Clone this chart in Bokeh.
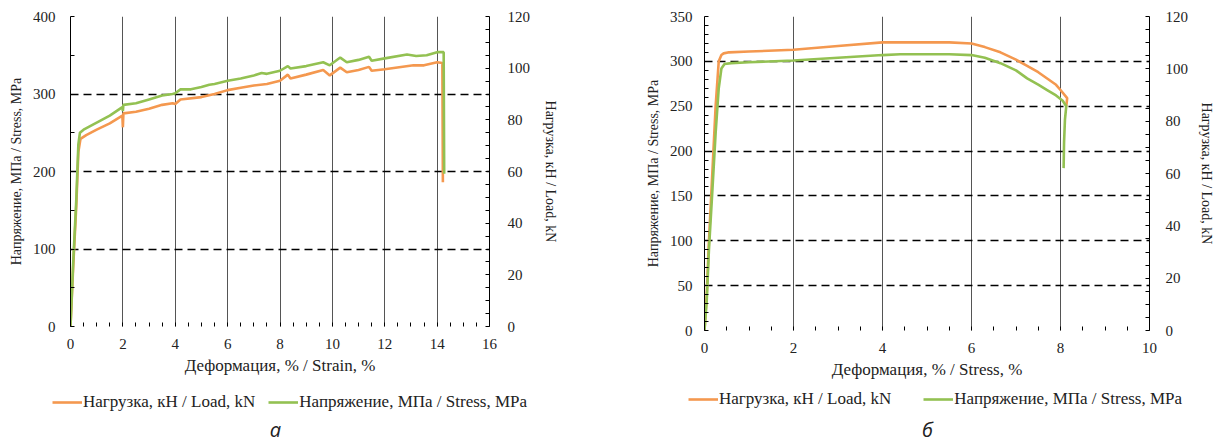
from bokeh.plotting import figure
from bokeh.layouts import row, column
from bokeh.models import (Range1d, LinearAxis, SingleIntervalTicker, Legend, LegendItem, Label)
from bokeh.embed import file_html
from bokeh.resources import INLINE

# ---------------- Data: chart "а" ----------------
a_stress_strain = [0, 0.1, 0.22, 0.3, 0.36, 0.5, 1.0, 1.5, 1.98, 2.0, 2.02, 2.5, 3.0, 3.5, 3.9, 4.0, 4.2, 4.6,
                   5.0, 5.3, 5.5, 6.0, 6.5, 7.0, 7.3, 7.5, 8.0, 8.3, 8.4, 9.0, 9.65, 9.9, 10.3, 10.55, 11.0,
                   11.4, 11.5, 12.0, 12.85, 13.2, 13.6, 14.0, 14.25, 14.27]
a_stress_mpa = [0, 80, 163, 235, 250, 254, 263, 272, 283, 278, 286, 288, 293, 298, 300, 301, 306, 306,
                309, 312, 313, 317, 320, 324, 327, 326, 330, 336, 333, 336, 341, 337, 347, 341, 344,
                348, 343, 346, 351, 349, 350, 354, 354, 197]
a_load_strain = [0, 0.1, 0.22, 0.3, 0.38, 0.6, 1.0, 1.5, 1.98, 2.0, 2.02, 2.5, 3.0, 3.5, 3.9, 4.0, 4.2, 5.0,
                 5.5, 6.0, 6.5, 7.0, 7.5, 8.0, 8.3, 8.4, 9.0, 9.65, 9.9, 10.3, 10.55, 11.0, 11.4, 11.5, 12.0,
                 13.1, 13.5, 14.0, 14.2, 14.22]
a_load_kn = [0, 22.5, 46.5, 67.5, 72.6, 74.1, 76.2, 78.6, 81.6, 77.1, 82.5, 83.1, 84.3, 85.8, 86.4, 86.1, 87.9, 88.8,
             90.0, 91.5, 92.4, 93.3, 93.9, 95.1, 97.5, 96.0, 97.5, 99.3, 97.2, 100.2, 98.4, 99.3, 100.5, 99.0, 99.6,
             101.1, 101.1, 102.3, 102.0, 55.8]

# ---------------- Data: chart "б" ----------------
b_stress_strain = [0, 0.05, 0.1, 0.17, 0.25, 0.32, 0.38, 0.45, 0.6, 1.0, 2.0, 3.0, 4.0, 4.4, 5.0, 5.5, 6.0,
                   6.3, 6.65, 7.0, 7.25, 7.5, 7.7, 7.9, 8.05, 8.13, 8.1, 8.08, 8.07]
b_stress_mpa = [0, 33, 90, 150, 220, 270, 292, 297, 298, 299, 301, 304, 307, 308, 308, 308, 307,
                304, 298, 290, 281, 274, 268, 262, 256, 250, 235, 210, 181]
b_load_strain = [0, 0.05, 0.1, 0.17, 0.25, 0.32, 0.38, 0.43, 0.55, 1.0, 2.0, 3.0, 4.0, 4.4, 5.0, 5.5, 6.0,
                 6.3, 6.65, 7.0, 7.25, 7.5, 7.7, 7.9, 8.0, 8.15, 8.13]
b_load_kn = [0, 13.7, 34.3, 58.3, 85.7, 102.9, 105.3, 105.9, 106.3, 106.6, 107.3, 108.7, 110.1, 110.1, 110.1,
             110.1, 109.7, 108.3, 106.3, 103.5, 101.1, 98.7, 96.3, 93.9, 91.9, 88.8, 85.7]

LEG_LOAD = "Нагрузка, кН / Load, kN"
LEG_STRESS = "Напряжение, МПа / Stress, MPa"
Y_LEFT_TITLE = "Напряжение, МПа / Stress, MPa"
Y_RIGHT_TITLE = "Нагрузка, кН / Load, kN"
X_TITLE_A = "Деформация, % / Strain, %"
X_TITLE_B = "Деформация, % / Stress, %"
TAGS = ["а", "б"]

ORANGE = "#F4984F"
GREEN = "#93C152"
SERIF = "Liberation Serif"
TICK_FS = "15px"
XTITLE_FS = "17px"
YTITLE_FS = "14px"
LEG_FS = "17px"
LEG_H = 56


def style_axis(ax, standoff, label_standoff, title_fs):
    ax.axis_label_text_font = SERIF
    ax.axis_label_text_font_size = title_fs
    ax.axis_label_text_font_style = "normal"
    ax.axis_label_text_color = "#222222"
    ax.major_label_text_font = SERIF
    ax.major_label_text_font_size = TICK_FS
    ax.major_label_text_color = "#222222"
    ax.major_tick_out = 0
    ax.major_tick_in = 0
    ax.minor_tick_out = 0
    ax.minor_tick_in = 4
    ax.minor_tick_line_color = "black"
    ax.major_label_standoff = standoff
    ax.axis_label_standoff = label_standoff


def make_chart(xmax, ymax, yint, ymin_minor, x_title,
               s_x, s_y, l_x, l_y, frame_w, frame_h, mb_left, mb_right, mb_bottom,
               l_standoff, r_standoff, r_lstandoff):
    p = figure(frame_width=frame_w, frame_height=frame_h, output_backend="svg", toolbar_location=None,
               x_range=Range1d(0, xmax), y_range=Range1d(0, ymax),
               min_border_left=mb_left, min_border_right=mb_right, min_border_top=16,
               min_border_bottom=mb_bottom)
    p.outline_line_color = None
    p.background_fill_color = "white"
    p.extra_y_ranges = {"load": Range1d(0, 120)}

    p.xaxis.ticker = SingleIntervalTicker(interval=2, num_minor_ticks=4)
    p.yaxis.ticker = SingleIntervalTicker(interval=yint, num_minor_ticks=ymin_minor)
    p.xaxis.axis_label = x_title
    p.yaxis.axis_label = Y_LEFT_TITLE
    style_axis(p.xaxis[0], 12, 4, XTITLE_FS)
    style_axis(p.yaxis[0], l_standoff, 6, YTITLE_FS)
    p.xaxis.axis_line_color = None
    p.yaxis.axis_line_color = "black"

    rax = LinearAxis(y_range_name="load", ticker=SingleIntervalTicker(interval=20, num_minor_ticks=4),
                     axis_label=Y_RIGHT_TITLE)
    style_axis(rax, r_standoff, r_lstandoff, YTITLE_FS)
    rax.axis_line_color = "black"
    p.add_layout(rax, "right")

    p.xgrid.grid_line_color = "#555555"
    p.xgrid.grid_line_width = 1
    p.ygrid.grid_line_color = "black"
    p.ygrid.grid_line_width = 1.6
    p.ygrid.grid_line_dash = "8 5"

    p.line(l_x, l_y, y_range_name="load", line_color=ORANGE, line_width=2.6)
    p.line(s_x, s_y, line_color=GREEN, line_width=2.6)
    return p


p1 = make_chart(16, 400, 100, 2, X_TITLE_A,
                a_stress_strain, a_stress_mpa, a_load_strain, a_load_kn,
                419, 310, 70, 151, 61, 15, 18, 10)
p2 = make_chart(10, 350, 50, 5, X_TITLE_B,
                b_stress_strain, b_stress_mpa, b_load_strain, b_load_kn,
                445, 314, 64, 66, 57, 12, 16, 8)

# ---- bottom strip: legends and panel tags (series lines kept outside the visible range) ----
lf = figure(width=1215, height=LEG_H, output_backend="svg", toolbar_location=None,
            x_range=Range1d(-200, -199), y_range=Range1d(-200, -199), min_border=0)
lf.axis.visible = False
lf.grid.visible = False
lf.outline_line_color = None


def add_legend(sx_load, sy_load, sx_stress, sy_stress, x, y, spacing):
    r1 = lf.line(sx_load, sy_load, line_color=ORANGE, line_width=2.6)
    r2 = lf.line(sx_stress, sy_stress, line_color=GREEN, line_width=2.6)
    leg = Legend(items=[LegendItem(label=LEG_LOAD, renderers=[r1]),
                        LegendItem(label=LEG_STRESS, renderers=[r2])],
                 orientation="horizontal", location=(x, y),
                 border_line_color=None, background_fill_alpha=0,
                 label_text_font=SERIF, label_text_font_size=LEG_FS, label_text_color="#222222",
                 glyph_width=30, glyph_height=16, label_standoff=1, spacing=spacing, padding=0, margin=0)
    lf.add_layout(leg, "center")


add_legend(a_load_strain, a_load_kn, a_stress_strain, a_stress_mpa, 52, 31, 13)
add_legend(b_load_strain, b_load_kn, b_stress_strain, b_stress_mpa, 688, 34, 32)
for tag, tx in zip(TAGS, (275, 927)):
    lf.add_layout(Label(x=tx, y=14, x_units="screen", y_units="screen", text=tag,
                        text_align="center", text_baseline="middle", text_font="Open Sans",
                        text_font_style="italic", text_font_size="20px", text_color="#222222"))

layout = column(row(p1, p2), lf)
open("out.html", "w").write(file_html(layout, INLINE))
